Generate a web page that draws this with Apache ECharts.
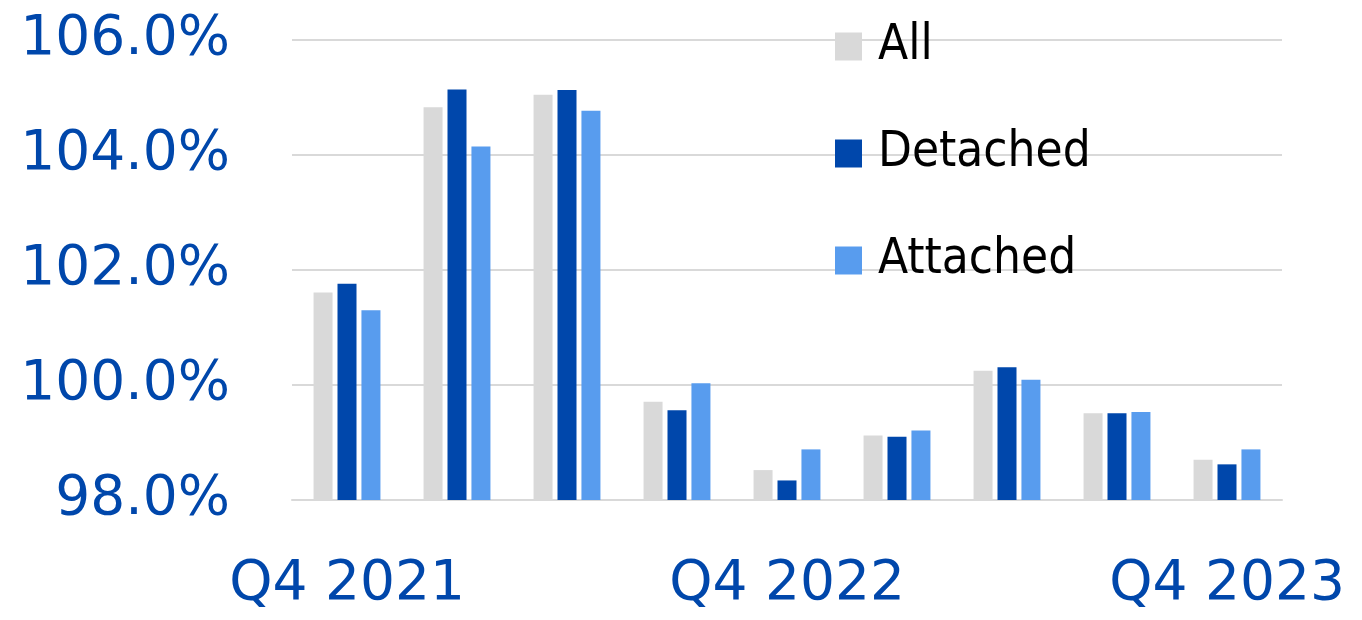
<!DOCTYPE html>
<html>
<head>
<meta charset="utf-8">
<title>House price index by dwelling type</title>
<script src="https://cdn.jsdelivr.net/npm/echarts@6/dist/echarts.min.js"></script>
<style>
  html, body { margin: 0; padding: 0; background: #ffffff; }
  #chart { width: 1362px; height: 620px; }
</style>
</head>
<body>
<div id="chart"></div>
<script>
// Quarters shown on the category axis (every fourth one is labelled)
const quarters = ['Q4 2021', 'Q1 2022', 'Q2 2022', 'Q3 2022', 'Q4 2022',
                  'Q1 2023', 'Q2 2023', 'Q3 2023', 'Q4 2023'];

// Index values, in percent
const allValues      = [101.61, 104.83, 105.05, 99.71, 98.52, 99.12, 100.25, 99.51, 98.70];
const detachedValues = [101.76, 105.14, 105.13, 99.56, 98.34, 99.10, 100.31, 99.51, 98.62];
const attachedValues = [101.30, 104.15, 104.77, 100.03, 98.88, 99.21, 100.09, 99.53, 98.88];

const seriesNames = ['All', 'Detached', 'Attached'];
const seriesColors = ['#d9d9d9', '#0047ab', '#589cee'];

const axisBlue = '#0047ab';
const fontFamily = '"DejaVu Sans", Verdana, sans-serif';

const chart = echarts.init(document.getElementById('chart'), null, { renderer: 'canvas' });

const dataSets = [allValues, detachedValues, attachedValues];

chart.setOption({
  animation: false,
  backgroundColor: '#ffffff',
  grid: { left: 292, right: 80, top: 40, bottom: 120, containLabel: false },
  legend: {
    orient: 'vertical',
    left: 830,
    top: 17,
    itemWidth: 27,
    itemHeight: 28,
    itemGap: 58,
    icon: 'rect',
    data: seriesNames,
    textStyle: {
      color: '#000000',
      fontFamily: '"DejaVu Sans Condensed", "DejaVu Sans", sans-serif',
      fontSize: 49,
      padding: [0, 0, 0, 11]
    }
  },
  xAxis: {
    type: 'category',
    data: quarters,
    axisLine: { show: true, lineStyle: { color: '#d9d9d9', width: 2 } },
    axisTick: { show: false },
    axisLabel: {
      interval: 3,
      margin: 57,
      color: axisBlue,
      fontFamily: fontFamily,
      fontSize: 55
    }
  },
  yAxis: {
    type: 'value',
    min: 98,
    max: 106,
    interval: 2,
    axisLine: { show: false },
    axisTick: { show: false },
    splitLine: { lineStyle: { color: '#d9d9d9', width: 2 } },
    axisLabel: {
      margin: 62,
      color: axisBlue,
      fontFamily: fontFamily,
      fontSize: 55,
      formatter: v => v.toFixed(1) + '%'
    }
  },
  series: seriesNames.map((name, i) => ({
    name: name,
    type: 'bar',
    data: dataSets[i],
    barWidth: 19,
    barGap: '26%',
    itemStyle: { color: seriesColors[i] }
  }))
});
</script>
</body>
</html>
